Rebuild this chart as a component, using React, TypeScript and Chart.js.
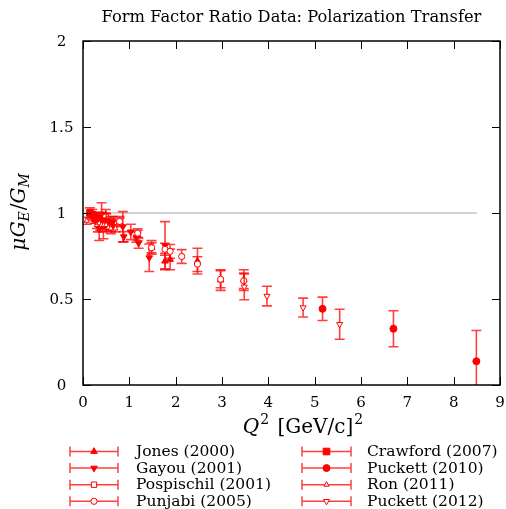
import React, { useEffect, useRef } from "react";
import { Chart, registerables } from "chart.js";
import { drawPoint } from "chart.js/helpers";

Chart.register(...registerables);

// ---------------- data ----------------
const TITLE = "Form Factor Ratio Data: Polarization Transfer";
const X_TICKS = [0, 1, 2, 3, 4, 5, 6, 7, 8, 9];
const X_TICK_LABELS = ["0", "1", "2", "3", "4", "5", "6", "7", "8", "9"];
const Y_TICKS = [0, 0.5, 1, 1.5, 2];
const Y_TICK_LABELS = ["0", "0.5", "1", "1.5", "2"];

const REF_X = [0, 8.5];
const REF_Y = 1;

const JONES_Q2 = [0.49, 0.79, 1.18, 1.48, 1.77, 1.88, 2.47, 2.97, 3.47];
const JONES_R = [0.99, 0.95, 0.87, 0.8, 0.72, 0.73, 0.72, 0.61, 0.61];
const JONES_E = [0.03, 0.03, 0.03, 0.04, 0.045, 0.06, 0.075, 0.06, 0.06];

const GAYOU_Q2 = [0.32, 0.35, 0.38, 0.43, 0.5, 0.59, 0.65, 0.86, 0.88, 1.03, 1.15, 1.2, 1.43, 1.77];
const GAYOU_R = [0.94, 0.91, 0.96, 0.95, 0.93, 0.94, 0.95, 0.92, 0.862, 0.89, 0.86, 0.825, 0.74, 0.81];
const GAYOU_E = [0.05, 0.07, 0.04, 0.04, 0.03, 0.03, 0.03, 0.088, 0.03, 0.045, 0.03, 0.03, 0.08, 0.14];

const POSP_Q2 = [0.373, 0.401, 0.441];
const POSP_R = [0.95, 0.98, 0.91];
const POSP_E = [0.05, 0.08, 0.06];

const PUNJ_Q2 = [0.49, 0.79, 1.18, 1.48, 1.77, 1.88, 2.13, 2.47, 2.97, 3.47];
const PUNJ_R = [0.979, 0.951, 0.883, 0.798, 0.789, 0.777, 0.747, 0.703, 0.615, 0.606];
const PUNJ_E = [0.02, 0.02, 0.025, 0.03, 0.035, 0.04, 0.04, 0.043, 0.05, 0.045];

const CRAW_Q2 = [0.15, 0.2, 0.25, 0.3, 0.35, 0.42, 0.5, 0.6];
const CRAW_R = [1.0, 0.99, 0.97, 0.97, 0.97, 0.93, 0.95, 0.93];
const CRAW_E = [0.03, 0.03, 0.03, 0.03, 0.035, 0.04, 0.045, 0.05];

const PUCK10_Q2 = [5.17, 6.7, 8.49];
const PUCK10_R = [0.443, 0.327, 0.138];
const PUCK10_E = [0.068, 0.105, 0.179];

const RON_Q2 = [0.08, 0.3, 0.35, 0.4, 0.45, 0.5, 0.55, 0.6, 0.7];
const RON_R = [0.955, 0.93, 0.94, 0.93, 0.93, 0.93, 0.915, 0.91, 0.91];
const RON_E = [0.02, 0.02, 0.02, 0.02, 0.02, 0.02, 0.02, 0.02, 0.02];

const PUCK12_Q2 = [3.48, 3.97, 4.75, 5.54];
const PUCK12_R = [0.571, 0.517, 0.45, 0.353];
const PUCK12_E = [0.075, 0.057, 0.055, 0.087];

// ---------------- styles ----------------
const RED = "#ff0000";
const BAR = "rgba(255,0,0,0.75)";
const FAMILY = "'DejaVu Serif', serif";
const FS = 15;
const LEG_FS = 15.5;
const TITLE_FS = 16.3;
const AX_FS = 20;
const AX_SUB = 14;

type Series = {
  name: string;
  q2: number[];
  r: number[];
  e: number[];
  style: string;
  rot: number;
  radius: number;
  filled: boolean;
};

const SERIES: Series[] = [
  { name: "Jones (2000)", q2: JONES_Q2, r: JONES_R, e: JONES_E, style: "triangle", rot: 0, radius: 3.8, filled: true },
  { name: "Gayou (2001)", q2: GAYOU_Q2, r: GAYOU_R, e: GAYOU_E, style: "triangle", rot: 180, radius: 3.8, filled: true },
  { name: "Pospischil (2001)", q2: POSP_Q2, r: POSP_R, e: POSP_E, style: "rect", rot: 0, radius: 3.8, filled: false },
  { name: "Punjabi (2005)", q2: PUNJ_Q2, r: PUNJ_R, e: PUNJ_E, style: "circle", rot: 0, radius: 3.1, filled: false },
  { name: "Crawford (2007)", q2: CRAW_Q2, r: CRAW_R, e: CRAW_E, style: "rect", rot: 0, radius: 4.7, filled: true },
  { name: "Puckett (2010)", q2: PUCK10_Q2, r: PUCK10_R, e: PUCK10_E, style: "circle", rot: 0, radius: 3.5, filled: true },
  { name: "Ron (2011)", q2: RON_Q2, r: RON_R, e: RON_E, style: "triangle", rot: 0, radius: 3, filled: false },
  { name: "Puckett (2012)", q2: PUCK12_Q2, r: PUCK12_R, e: PUCK12_E, style: "triangle", rot: 180, radius: 3.5, filled: false },
];

type Run = [string, string, number, number];

function drawRuns(ctx: CanvasRenderingContext2D, runs: Run[], x: number, y: number, align: string) {
  let total = 0;
  const widths = runs.map((r) => {
    ctx.font = r[1];
    const w = ctx.measureText(r[0]).width + r[3];
    total += w;
    return w;
  });
  let cx = align === "center" ? x - total / 2 : align === "right" ? x - total : x;
  ctx.textAlign = "left";
  ctx.textBaseline = "alphabetic";
  runs.forEach((r, i) => {
    ctx.font = r[1];
    ctx.fillText(r[0], cx, y + r[2]);
    cx += widths[i];
  });
}

const errorBarPlugin = {
  id: "errorBars",
  beforeDatasetDraw(chart: any, args: any) {
    const ds = chart.data.datasets[args.index];
    const errs: number[] | undefined = ds.errors;
    if (!errs) return;
    const xs = chart.scales.x;
    const ys = chart.scales.y;
    const { left, right, top, bottom } = chart.chartArea;
    const ctx: CanvasRenderingContext2D = chart.ctx;
    ctx.save();
    ctx.beginPath();
    ctx.rect(left, top, right - left, bottom - top);
    ctx.clip();
    ctx.strokeStyle = BAR;
    ctx.lineWidth = 1.6;
    ds.data.forEach((p: any, i: number) => {
      const x = xs.getPixelForValue(p.x);
      const y1 = ys.getPixelForValue(p.y - errs[i]);
      const y2 = ys.getPixelForValue(p.y + errs[i]);
      ctx.beginPath();
      ctx.moveTo(x, y1);
      ctx.lineTo(x, y2);
      ctx.moveTo(x - 5, y1);
      ctx.lineTo(x + 5, y1);
      ctx.moveTo(x - 5, y2);
      ctx.lineTo(x + 5, y2);
      ctx.stroke();
    });
    ctx.restore();
  },
};

const decorPlugin = {
  id: "decor",
  afterDraw(chart: any) {
    const ctx: CanvasRenderingContext2D = chart.ctx;
    const xs = chart.scales.x;
    const ys = chart.scales.y;
    const { left, right, top, bottom } = chart.chartArea;
    ctx.save();
    // frame
    ctx.strokeStyle = "#000";
    ctx.lineWidth = 1.5;
    ctx.strokeRect(left, top, right - left, bottom - top);
    // inner ticks (mirrored)
    ctx.lineWidth = 1;
    const TL = 8;
    X_TICKS.forEach((v) => {
      const px = Math.round(xs.getPixelForValue(v)) + 0.5;
      ctx.beginPath();
      ctx.moveTo(px, bottom);
      ctx.lineTo(px, bottom - TL);
      ctx.moveTo(px, top);
      ctx.lineTo(px, top + TL);
      ctx.stroke();
    });
    Y_TICKS.forEach((v) => {
      const py = Math.round(ys.getPixelForValue(v)) + 0.5;
      ctx.beginPath();
      ctx.moveTo(left, py);
      ctx.lineTo(left + TL, py);
      ctx.moveTo(right, py);
      ctx.lineTo(right - TL, py);
      ctx.stroke();
    });

    ctx.fillStyle = "#000";
    // y tick labels (centred column)
    ctx.font = `${FS}px ${FAMILY}`;
    ctx.textAlign = "center";
    ctx.textBaseline = "middle";
    Y_TICKS.forEach((v, i) => {
      ctx.fillText(Y_TICK_LABELS[i], 61.5, ys.getPixelForValue(v) + 1);
    });

    // title
    ctx.font = `${TITLE_FS}px ${FAMILY}`;
    ctx.textAlign = "center";
    ctx.textBaseline = "alphabetic";
    ctx.fillText(TITLE, (left + right) / 2, 22);

    // x axis title
    const it = `italic ${AX_FS}px ${FAMILY}`;
    const rm = `${AX_FS}px ${FAMILY}`;
    const sm = `${AX_SUB}px ${FAMILY}`;
    const smi = `italic ${AX_SUB}px ${FAMILY}`;
    drawRuns(
      ctx,
      [
        ["Q", it, 0, 1],
        ["2", sm, -9, 2],
        [" [GeV/c]", rm, 0, 1],
        ["2", sm, -9, 0],
      ],
      303,
      433,
      "center"
    );

    // y axis title (rotated)
    ctx.save();
    ctx.translate(25, 212);
    ctx.rotate(-Math.PI / 2);
    drawRuns(
      ctx,
      [
        ["μ", it, 0, 0.5],
        ["G", it, 0, 0],
        ["E", smi, 3.5, 1],
        ["/", rm, 0, 0],
        ["G", it, 0, 0],
        ["M", smi, 3.5, 0],
      ],
      0,
      0,
      "center"
    );
    ctx.restore();

    // legend
    SERIES.forEach((s, i) => {
      const col = i < 4 ? 0 : 1;
      const row = i % 4;
      const x0 = col === 0 ? 70 : 302;
      const x1 = col === 0 ? 118 : 351;
      const tx = col === 0 ? 136 : 367;
      const y = 451.5 + row * 16.6;
      ctx.strokeStyle = BAR;
      ctx.lineWidth = 1.5;
      ctx.beginPath();
      ctx.moveTo(x0, y);
      ctx.lineTo(x1, y);
      ctx.moveTo(x0, y - 5);
      ctx.lineTo(x0, y + 5);
      ctx.moveTo(x1, y - 5);
      ctx.lineTo(x1, y + 5);
      ctx.stroke();
      ctx.fillStyle = s.filled ? RED : "#fff";
      ctx.strokeStyle = RED;
      ctx.lineWidth = 1;
      drawPoint(ctx, { pointStyle: s.style as any, rotation: s.rot, radius: s.radius, borderWidth: 1 }, (x0 + x1) / 2, y);
      ctx.fillStyle = "#000";
      ctx.font = `${LEG_FS}px ${FAMILY}`;
      ctx.textAlign = "left";
      ctx.textBaseline = "middle";
      ctx.fillText(s.name, tx, y + 0.5);
    });
    ctx.restore();
  },
};

export default function App() {
  const canvasRef = useRef<HTMLCanvasElement | null>(null);

  useEffect(() => {
    const canvas = canvasRef.current;
    if (!canvas) return;

    const datasets: any[] = SERIES.map((s, i) => ({
      label: s.name,
      data: s.q2.map((q, j) => ({ x: q, y: s.r[j] })),
      errors: s.e,
      pointStyle: s.style,
      rotation: s.rot,
      pointRadius: s.radius,
      pointHoverRadius: s.radius,
      backgroundColor: s.filled ? RED : "#ffffff",
      borderColor: RED,
      pointBorderWidth: 1,
      showLine: false,
      order: SERIES.length - i,
    }));
    datasets.push({
      label: "reference",
      data: REF_X.map((x) => ({ x, y: REF_Y })),
      borderColor: "#c4c4c4",
      borderWidth: 1.5,
      pointRadius: 0,
      showLine: true,
      order: 100,
    });

    const tickFont = { family: FAMILY, size: FS };

    const chart = new Chart(canvas, {
      type: "scatter",
      data: { datasets },
      options: {
        animation: false,
        responsive: false,
        events: [],
        layout: { padding: { left: 0, right: 6, top: 41, bottom: 0 } },
        plugins: {
          legend: { display: false },
          title: { display: false },
          tooltip: { enabled: false },
        },
        scales: {
          x: {
            type: "linear",
            min: 0,
            max: 9,
            afterBuildTicks: (s: any) => {
              s.ticks = X_TICKS.map((v) => ({ value: v }));
            },
            afterFit: (s: any) => {
              s.height = 124;
              s.paddingLeft = 0;
              s.paddingRight = 0;
            },
            grid: { display: false },
            border: { display: false },
            ticks: {
              font: tickFont,
              color: "#000",
              padding: 1,
              autoSkip: false,
              maxRotation: 0,
              callback: (v: any) => X_TICK_LABELS[X_TICKS.indexOf(Number(v))],
            },
          },
          y: {
            type: "linear",
            min: 0,
            max: 2,
            afterBuildTicks: (s: any) => {
              s.ticks = Y_TICKS.map((v) => ({ value: v }));
            },
            afterFit: (s: any) => {
              s.width = 83;
              s.paddingTop = 0;
              s.paddingBottom = 0;
            },
            grid: { display: false },
            border: { display: false },
            ticks: { display: false },
          },
        },
      } as any,
      plugins: [errorBarPlugin, decorPlugin],
    });

    return () => chart.destroy();
  }, []);

  return (
    <div style={{ position: "fixed", left: 0, top: 0, width: 506, height: 509, background: "#fff" }}>
      <canvas ref={canvasRef} width={506} height={509} style={{ display: "block", width: 506, height: 509 }} />
    </div>
  );
}
